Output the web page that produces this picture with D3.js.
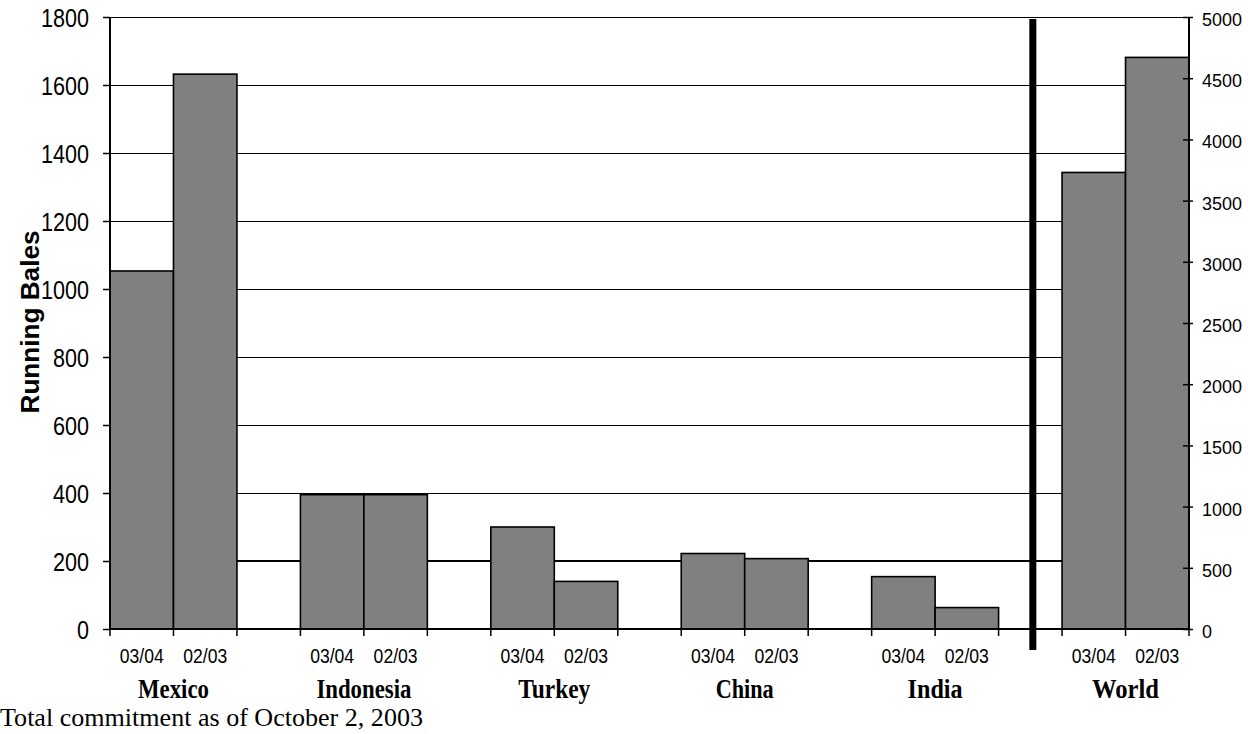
<!DOCTYPE html>
<html>
<head>
<meta charset="utf-8">
<script src="https://cdn.jsdelivr.net/npm/d3@7"></script>
<style>
  html, body { margin: 0; padding: 0; background: #fff; }
  svg { display: block; }
</style>
</head>
<body>
<svg id="chart" width="1248" height="734"></svg>
<script>
// ---- data ----
const countries = ["Mexico", "Indonesia", "Turkey", "China", "India", "World"];
const seasons = ["03/04", "02/03"];
const values0304 = [1053, 395, 300, 222, 154, 3730];
const values0203 = [1632, 395, 140, 207, 63, 4670];
const leftTicks = [0, 200, 400, 600, 800, 1000, 1200, 1400, 1600, 1800];
const rightTicks = [0, 500, 1000, 1500, 2000, 2500, 3000, 3500, 4000, 4500, 5000];
const yTitle = "Running Bales";
const footnote = "Total commitment as of October 2, 2003";

// ---- layout ----
const svg = d3.select("#chart");
const L = 110, R = 1189, T = 17, B = 629;
const slots = countries.length * 3 - 1; // 2 bars + 1 gap per group
const x = d3.scaleLinear().domain([0, slots]).range([L, R]);
const yL = d3.scaleLinear().domain([0, 1800]).range([B, T]);
const yR = d3.scaleLinear().domain([0, 5000]).range([B, T]);

// bars data
const bars = [];
countries.forEach((c, i) => {
  const start = i * 3;
  const vals = [values0304[i], values0203[i]];
  vals.forEach((v, j) => {
    bars.push({ country: c, season: seasons[j], value: v, s0: start + j, s1: start + j + 1,
      scale: c === "World" ? yR : yL });
  });
});

// gridlines (left axis)
svg.append("g").selectAll("line").data(leftTicks.filter(d => d > 0)).join("line")
  .attr("x1", L).attr("x2", R)
  .attr("y1", d => Math.round(yL(d)) + (d === 200 ? 0 : 0.5))
  .attr("y2", d => Math.round(yL(d)) + (d === 200 ? 0 : 0.5))
  .attr("stroke", "#000")
  .attr("shape-rendering", "crispEdges")
  .attr("stroke-width", d => d === 200 ? 2 : 1);

// bars
svg.append("g").selectAll("rect").data(bars).join("rect")
  .attr("x", d => x(d.s0))
  .attr("width", d => x(d.s1) - x(d.s0))
  .attr("y", d => d.scale(d.value))
  .attr("height", d => B - d.scale(d.value))
  .attr("fill", "#808080")
  .attr("stroke", "#000")
  .attr("stroke-width", 1.6);

// left axis
const gL = svg.append("g").attr("transform", `translate(${L},0)`)
  .call(d3.axisLeft(yL).tickValues(leftTicks).tickSize(7).tickPadding(14).tickFormat(d3.format("d")));
gL.select(".domain").attr("stroke-width", 2).attr("d", `M0,${T}V${B}`);
gL.selectAll(".tick line").attr("stroke-width", 1.5);
gL.selectAll(".tick text")
  .attr("font-family", "Arial, 'Liberation Sans', sans-serif")
  .attr("font-size", 26)
  .attr("fill", "#000")
  .attr("dy", "0.36em")
  .attr("textLength", d => String(d).length * 12)
  .attr("lengthAdjust", "spacingAndGlyphs");

// right axis
const gR = svg.append("g").attr("transform", `translate(${R},0)`)
  .call(d3.axisRight(yR).tickValues(rightTicks).tickSize(4).tickPadding(9).tickFormat(d3.format("d")));
gR.select(".domain").attr("stroke-width", 2).attr("d", `M0,${T}V${B}`);
gR.selectAll(".tick line").attr("x1", -6).attr("stroke-width", 1.5);
gR.selectAll(".tick text")
  .attr("font-family", "Arial, 'Liberation Sans', sans-serif")
  .attr("font-size", 18.5)
  .attr("fill", "#000")
  .attr("dy", "0.46em")
  .attr("textLength", d => String(d).length * 10)
  .attr("lengthAdjust", "spacingAndGlyphs");

// bottom axis line + ticks at bar edges
svg.append("line").attr("x1", L).attr("x2", R).attr("y1", B).attr("y2", B)
  .attr("stroke", "#000").attr("stroke-width", 2);
const edges = [];
countries.forEach((c, i) => { edges.push(i * 3, i * 3 + 1, i * 3 + 2); });
svg.append("g").selectAll("line").data(edges).join("line")
  .attr("x1", d => x(d)).attr("x2", d => x(d))
  .attr("y1", B).attr("y2", B + 7)
  .attr("stroke", "#000").attr("stroke-width", 1.5);

// season labels
svg.append("g").selectAll("text").data(bars).join("text")
  .attr("x", d => (x(d.s0) + x(d.s1)) / 2)
  .attr("y", 663)
  .attr("text-anchor", "middle")
  .attr("font-family", "Arial, 'Liberation Sans', sans-serif")
  .attr("font-size", 19.5)
  .attr("textLength", 44)
  .attr("lengthAdjust", "spacingAndGlyphs")
  .text(d => d.season);

// country labels
const countryWidths = { Mexico: 71, Indonesia: 95, Turkey: 72, China: 58, India: 55, World: 67 };
svg.append("g").selectAll("text").data(countries).join("text")
  .attr("x", (d, i) => x(i * 3 + 1))
  .attr("y", 698)
  .attr("text-anchor", "middle")
  .attr("font-family", "'Times New Roman', 'Liberation Serif', serif")
  .attr("font-weight", "bold")
  .attr("font-size", 26.5)
  .attr("textLength", d => countryWidths[d])
  .attr("lengthAdjust", "spacingAndGlyphs")
  .text(d => d);

// separator line between India and World
svg.append("rect")
  .attr("x", x(14.5) - 1)
  .attr("width", 7)
  .attr("y", T + 2)
  .attr("height", 650 - (T + 2))
  .attr("fill", "#000");

// y-axis title
svg.append("text")
  .attr("transform", `translate(39,322) rotate(-90)`)
  .attr("text-anchor", "middle")
  .attr("font-family", "Arial, 'Liberation Sans', sans-serif")
  .attr("font-weight", "bold")
  .attr("font-size", 26)
  .attr("textLength", 183)
  .attr("lengthAdjust", "spacingAndGlyphs")
  .text(yTitle);

// footnote
svg.append("text")
  .attr("x", 0)
  .attr("y", 726)
  .attr("font-family", "'Times New Roman', 'Liberation Serif', serif")
  .attr("font-size", 25.5)
  .attr("textLength", 423)
  .attr("lengthAdjust", "spacingAndGlyphs")
  .text(footnote);
</script>
</body>
</html>
